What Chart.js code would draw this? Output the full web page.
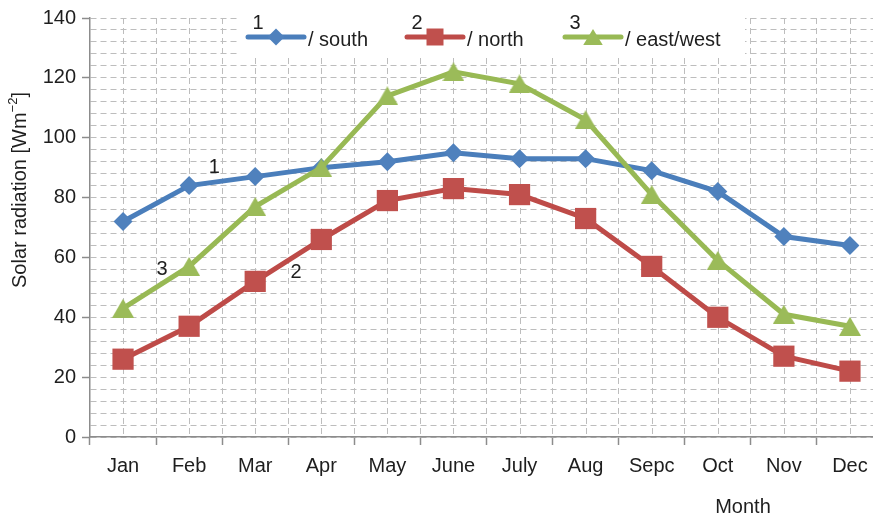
<!DOCTYPE html>
<html>
<head>
<meta charset="utf-8">
<script src="https://cdn.jsdelivr.net/npm/chart.js@4.4.0/dist/chart.umd.min.js"></script>
<style>
  html, body { margin: 0; padding: 0; background: #fff; overflow: hidden; }
  #wrap { width: 873px; height: 517px; overflow: hidden; }
</style>
</head>
<body>
<div id="wrap"><canvas id="solarChart" width="898" height="517"></canvas></div>
<script>
const months = ['Jan', 'Feb', 'Mar', 'Apr', 'May', 'June', 'July', 'Aug', 'Sepc', 'Oct', 'Nov', 'Dec'];
const south = [72, 84, 87, 90, 92, 95, 93, 93, 89, 82, 67, 64];
const north = [26, 37, 52, 66, 79, 83, 81, 73, 57, 40, 27, 22];
const eastWest = [43, 57, 77, 90, 114, 122, 118, 106, 81, 59, 41, 37];
const seriesNames = ['/ south', '/ north', '/ east/west'];
const seriesNumbers = ['1', '2', '3'];
const yMax = 140;
const yLabelStep = 20;

const FONT = '"Liberation Sans", Arial, sans-serif';
const TEXT = '#1e1e1e';
const GRID = '#bdbdbd';
const AXIS = '#8c8c8c';
const lineColors = ['#4a7ebb', '#be4b48', '#98b954'];
const markColors = ['#4f81bd', '#c0504d', '#9bbb59'];

// triangle drawn centred on its box, like the spreadsheet marker
function triangleCanvas(w, h, color) {
  const c = document.createElement('canvas');
  c.width = w; c.height = h;
  const g = c.getContext('2d');
  g.fillStyle = color;
  g.beginPath();
  g.moveTo(w / 2, 0);
  g.lineTo(w, h);
  g.lineTo(0, h);
  g.closePath();
  g.fill();
  return c;
}

function drawMarker(ctx, i, x, y, s) {
  ctx.fillStyle = markColors[i];
  ctx.beginPath();
  if (i === 0) {
    ctx.moveTo(x - s, y); ctx.lineTo(x, y - s); ctx.lineTo(x + s, y); ctx.lineTo(x, y + s);
  } else if (i === 1) {
    ctx.rect(x - s, y - s, 2 * s, 2 * s);
  } else {
    ctx.moveTo(x, y - s * 0.95); ctx.lineTo(x + s * 1.15, y + s * 0.95); ctx.lineTo(x - s * 1.15, y + s * 0.95);
  }
  ctx.closePath();
  ctx.fill();
}

const extras = {
  id: 'extras',
  beforeDatasetsDraw(chart) {
    const {ctx, chartArea, scales: {x}} = chart;
    ctx.save();
    // dashed lines through category centres
    ctx.strokeStyle = GRID;
    ctx.lineWidth = 1;
    ctx.setLineDash([6, 4]);
    months.forEach((m, i) => {
      const px = Math.round(x.getPixelForValue(i)) + 0.5;
      ctx.beginPath();
      ctx.moveTo(px, chartArea.top);
      ctx.lineTo(px, chartArea.bottom - 1);
      ctx.stroke();
    });
    ctx.setLineDash([]);
    // legend background
    ctx.fillStyle = '#fff';
    ctx.fillRect(240, 18, 505, 40);
    ctx.restore();
  },
  afterDraw(chart) {
    const {ctx, scales: {x, y}} = chart;
    ctx.save();
    ctx.fillStyle = TEXT;
    ctx.textBaseline = 'middle';
    ctx.textAlign = 'center';
    ctx.font = '20px ' + FONT;

    // legend
    const legX = [248, 407, 565];
    const legY = 37;
    seriesNames.forEach((name, i) => {
      const x0 = legX[i];
      ctx.strokeStyle = lineColors[i];
      ctx.lineWidth = 5;
      ctx.lineCap = 'round';
      ctx.beginPath();
      ctx.moveTo(x0, legY);
      ctx.lineTo(x0 + 56, legY);
      ctx.stroke();
      drawMarker(ctx, i, x0 + 28, legY, 8.5);
      ctx.fillStyle = TEXT;
      ctx.textAlign = 'center';
      ctx.fillText(seriesNumbers[i], x0 + 10, 23);
      ctx.textAlign = 'left';
      ctx.fillText(name, x0 + 60, legY + 3);
    });

    // curve numbers next to the lines
    ctx.textAlign = 'center';
    [{t: '1', v: 1.38, w: 90}, {t: '3', v: 0.59, w: 56}, {t: '2', v: 2.62, w: 55}].forEach(a => {
      ctx.fillText(a.t, x.getPixelForValue(a.v), y.getPixelForValue(a.w));
    });

    // x axis title
    ctx.fillText('Month', 743, 507);

    // y axis title with superscript
    ctx.translate(20, 190);
    ctx.rotate(-Math.PI / 2);
    ctx.font = '20px ' + FONT;
    const main = 'Solar radiation [Wm';
    const mw = ctx.measureText(main).width;
    ctx.font = '13px ' + FONT;
    const sup = '\u22122';
    const sw = ctx.measureText(sup).width;
    ctx.font = '20px ' + FONT;
    const cw = ctx.measureText(']').width;
    const start = -(mw + sw + cw) / 2;
    ctx.textAlign = 'left';
    ctx.fillText(main, start, 0);
    ctx.font = '13px ' + FONT;
    ctx.fillText(sup, start + mw, -7);
    ctx.font = '20px ' + FONT;
    ctx.fillText(']', start + mw + sw, 0);
    ctx.restore();
  }
};

const series = [south, north, eastWest];
const pointStyles = ['rectRot', 'rect', triangleCanvas(22, 19, markColors[2])];
const pointRadii = [9.5, 15, 11];

new Chart(document.getElementById('solarChart'), {
  type: 'line',
  data: {
    labels: months,
    datasets: series.map((d, i) => ({
      label: seriesNames[i],
      data: d,
      borderColor: lineColors[i],
      backgroundColor: markColors[i],
      borderWidth: 5,
      tension: 0,
      pointStyle: pointStyles[i],
      pointRadius: pointRadii[i],
      pointHoverRadius: pointRadii[i],
      pointBackgroundColor: markColors[i],
      pointBorderColor: markColors[i],
      pointBorderWidth: 0,
      order: 2 - i,
      clip: false
    }))
  },
  options: {
    responsive: false,
    animation: false,
    events: [],
    layout: { padding: { top: 16, right: 1, left: 0, bottom: 0 } },
    plugins: {
      legend: { display: false },
      tooltip: { enabled: false }
    },
    scales: {
      x: {
        type: 'category',
        offset: true,
        grid: {
          offset: true,
          color: GRID,
          lineWidth: 1,
          tickLength: 8,
          tickColor: AXIS,
          tickWidth: 1.5,
          tickBorderDash: []
        },
        border: { color: AXIS, width: 1.5, dash: [6, 4] },
        ticks: {
          color: TEXT,
          font: { family: FONT, size: 20 },
          padding: 9,
          maxRotation: 0,
          autoSkip: false
        },
        afterFit(scale) { scale.height = 80; }
      },
      y: {
        min: 0,
        max: yMax,
        grid: {
          color: GRID,
          lineWidth: 1,
          tickLength: 8,
          tickWidth: 1.5,
          tickBorderDash: [],
          tickColor: c => (c.tick && c.tick.value % yLabelStep === 0) ? AXIS : 'rgba(0,0,0,0)'
        },
        border: { color: AXIS, width: 1.5, dash: [6, 4] },
        ticks: {
          stepSize: 4,
          autoSkip: false,
          color: TEXT,
          padding: 6,
          font: { family: FONT, size: 20 },
          callback: v => (v % yLabelStep === 0 ? v : '')
        },
        afterFit(scale) { scale.width = 90; }
      }
    }
  },
  plugins: [extras]
});
</script>
</body>
</html>
